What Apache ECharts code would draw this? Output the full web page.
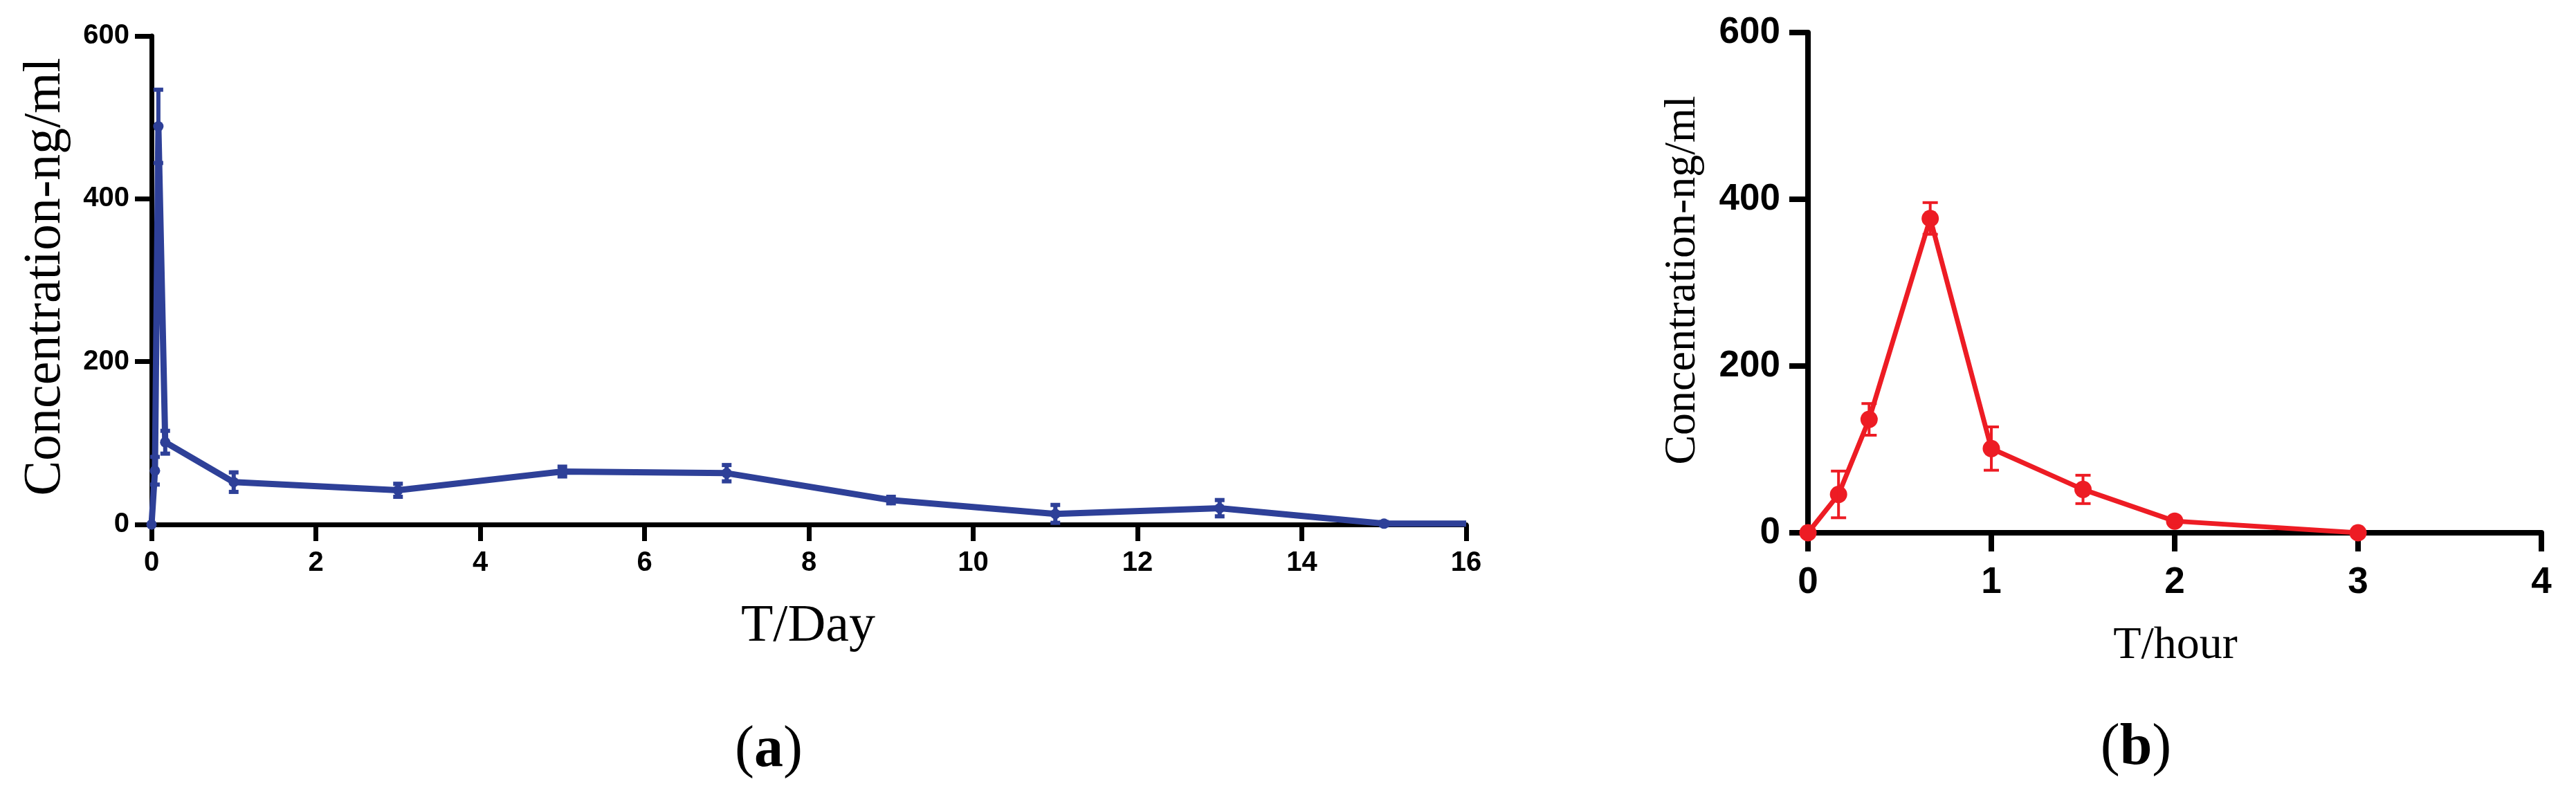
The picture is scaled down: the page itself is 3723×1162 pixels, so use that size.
<!DOCTYPE html>
<html>
<head>
<meta charset="utf-8">
<script src="https://cdn.jsdelivr.net/npm/echarts@6/dist/echarts.min.js"></script>
<style>
html,body{margin:0;padding:0;background:#fff;}
#c{width:3723px;height:1162px;}
</style>
</head>
<body>
<div id="c"></div>
<script>
// Panel (a): time in days
const daysA = [0, 1/24, 2/24, 4/24, 1, 3, 5, 7, 9, 11, 13, 15, 16];
const concA = [0, 66, 489, 101, 52, 42, 65, 63, 30, 13, 20, 1, 1];
const sdA   = [0, 17, 45, 14, 12, 8, 6, 10, 4, 11, 10, 2, 0];
const ticksA = [0, 2, 4, 6, 8, 10, 12, 14, 16];

// Panel (b): time in hours
const hoursB = [0, 1/6, 1/3, 2/3, 1, 1.5, 2, 3];
const concB  = [0, 46, 136, 377, 101, 52, 14, 0];
const sdB    = [0, 28, 19, 19, 26, 17, 3, 0];
const ticksB = [0, 1, 2, 3, 4];

const yTicks = [0, 200, 400, 600];

const BLUE = '#2E4098';
const RED = '#ED1C24';

const lineA = daysA.map((x, i) => [x, concA[i]]);
const errA = daysA.map((x, i) => [x, concA[i], sdA[i]]);
const lineB = hoursB.map((x, i) => [x, concB[i]]);
const errB = hoursB.map((x, i) => [x, concB[i], sdB[i]]);

function errRender(color, halfCap, width) {
  return function (params, api) {
    const x = api.value(0), y = api.value(1), sd = api.value(2);
    if (!sd) return null;
    const top = api.coord([x, y + sd]);
    const bot = api.coord([x, y - sd]);
    const st = { stroke: color, lineWidth: width };
    return {
      type: 'group',
      children: [
        { type: 'line', shape: { x1: top[0], y1: top[1], x2: bot[0], y2: bot[1] }, style: st },
        { type: 'line', shape: { x1: top[0] - halfCap, y1: top[1], x2: top[0] + halfCap, y2: top[1] }, style: st },
        { type: 'line', shape: { x1: bot[0] - halfCap, y1: bot[1], x2: bot[0] + halfCap, y2: bot[1] }, style: st }
      ]
    };
  };
}

function xAxisCfg(idx, max, interval, lw, tickLen, fs, margin) {
  return {
    gridIndex: idx, type: 'value', min: 0, max: max, interval: interval,
    axisLine: { show: true, onZero: false, lineStyle: { color: '#000', width: lw } },
    axisTick: { show: true, length: tickLen, lineStyle: { color: '#000', width: lw } },
    splitLine: { show: false },
    axisLabel: { color: '#000', fontSize: fs, fontWeight: 'bold', fontFamily: 'Liberation Sans', margin: margin,
      showMinLabel: true, showMaxLabel: true }
  };
}
function yAxisCfg(idx, lw, tickLen, fs, margin) {
  return {
    gridIndex: idx, type: 'value', min: 0, max: 600, interval: 200,
    axisLine: { show: true, lineStyle: { color: '#000', width: lw } },
    axisTick: { show: true, length: tickLen, lineStyle: { color: '#000', width: lw } },
    splitLine: { show: false },
    axisLabel: { color: '#000', fontSize: fs, fontWeight: 'bold', fontFamily: 'Liberation Sans', margin: margin }
  };
}

const chart = echarts.init(document.getElementById('c'), null, { renderer: 'canvas' });
chart.setOption({
  backgroundColor: '#fff',
  animation: false,
  grid: [
    { left: 219, top: 52, width: 1900, height: 706 },
    { left: 2613, top: 47, width: 1060, height: 723 }
  ],
  xAxis: [
    xAxisCfg(0, ticksA[ticksA.length - 1], ticksA[1] - ticksA[0], 7, 24, 40, 36),
    xAxisCfg(1, ticksB[ticksB.length - 1], ticksB[1] - ticksB[0], 8, 27, 53, 46)
  ],
  yAxis: [
    yAxisCfg(0, 7, 24, 40, 32),
    yAxisCfg(1, 8, 27, 53, 40)
  ],
  series: [
    {
      type: 'line', xAxisIndex: 0, yAxisIndex: 0, data: lineA,
      lineStyle: { color: BLUE, width: 9 }, itemStyle: { color: BLUE },
      symbol: 'circle',
      symbolSize: function (v, p) { return p.dataIndex === daysA.length - 1 ? 0 : 15; },
      z: 3
    },
    {
      type: 'custom', xAxisIndex: 0, yAxisIndex: 0, data: errA,
      renderItem: errRender(BLUE, 7, 6), encode: { x: 0, y: 1 }, z: 4
    },
    {
      type: 'line', xAxisIndex: 1, yAxisIndex: 1, data: lineB,
      lineStyle: { color: RED, width: 7 }, itemStyle: { color: RED },
      symbol: 'circle', symbolSize: 25, z: 3
    },
    {
      type: 'custom', xAxisIndex: 1, yAxisIndex: 1, data: errB,
      renderItem: errRender(RED, 11, 4), encode: { x: 0, y: 1 }, z: 4
    }
  ],
  graphic: [
    { type: 'text', x: 66, y: 400, rotation: Math.PI / 2,
      style: { text: 'Concentration-ng/ml', font: '76px "Liberation Serif"', fill: '#000', align: 'center', verticalAlign: 'middle' } },
    { type: 'text', x: 2432, y: 405, rotation: Math.PI / 2,
      style: { text: 'Concentration-ng/ml', font: '64px "Liberation Serif"', fill: '#000', align: 'center', verticalAlign: 'middle' } },
    { type: 'text', x: 1168, y: 906,
      style: { text: 'T/Day', font: '76px "Liberation Serif"', fill: '#000', align: 'center', verticalAlign: 'middle' } },
    { type: 'text', x: 3144, y: 934,
      style: { text: 'T/hour', font: '66px "Liberation Serif"', fill: '#000', align: 'center', verticalAlign: 'middle' } },
    { type: 'text', x: 1111, y: 1085,
      style: { text: '{p|(}{b|a}{p|)}', align: 'center', verticalAlign: 'middle', fill: '#000',
        rich: { p: { font: '84px "Liberation Serif"', fill: '#000' }, b: { font: 'bold 84px "Liberation Serif"', fill: '#000' } } } },
    { type: 'text', x: 3087, y: 1082,
      style: { text: '{p|(}{b|b}{p|)}', align: 'center', verticalAlign: 'middle', fill: '#000',
        rich: { p: { font: '84px "Liberation Serif"', fill: '#000' }, b: { font: 'bold 84px "Liberation Serif"', fill: '#000' } } } }
  ]
});
</script>
</body>
</html>
